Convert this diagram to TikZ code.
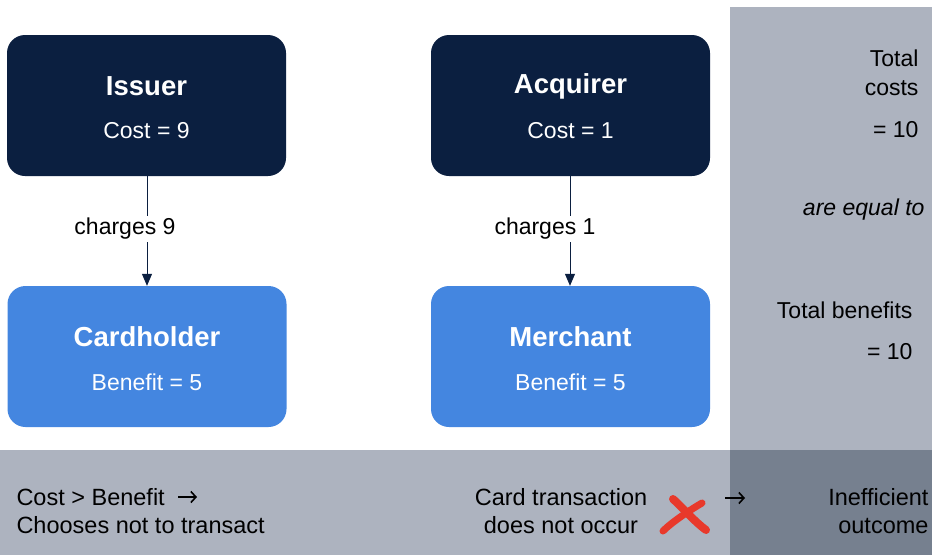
\documentclass[tikz,border=0pt]{standalone}
\usepackage{fontspec}
\setmainfont{Liberation Sans}
\usetikzlibrary{arrows.meta}
\definecolor{navy}{HTML}{0B1F40}
\definecolor{bluebox}{HTML}{4486E0}
\definecolor{panel}{HTML}{ADB3BF}
\definecolor{panelDark}{HTML}{76808F}
\definecolor{xred}{HTML}{E8392B}
\tikzset{
  x=1pt,y=-1pt,
  topbox/.style={fill=navy,rounded corners=18pt,minimum width=279pt,minimum height=141pt,inner sep=0pt,text=white,align=center},
  botbox/.style={topbox,fill=bluebox},
  ttl/.style={font=\fontsize{27.5}{32}\selectfont\bfseries},
  txt/.style={font=\fontsize{23}{28}\selectfont},
  btxt/.style={font=\fontsize{23.5}{28}\selectfont},
  conn/.style={draw=navy,line width=1pt,-{Triangle[length=12pt,width=10pt]}},
  lbl/.style={txt,fill=white,inner sep=2pt,text=black},
  barb/.style={draw=black,line width=1.6pt,-{Straight Barb[length=5pt,width=11pt,line width=1.6pt]}},
}
\begin{document}
\begin{tikzpicture}
\useasboundingbox (0,0) rectangle (932,555);
\fill[white] (0,0) rectangle (932,555);
% panels
\fill[panel] (730,7) rectangle (932,555);
\fill[panel] (0,450) rectangle (932,555);
\fill[panelDark] (730,450) rectangle (932,555);
% boxes
\node[topbox] (issuer) at (146.5,105.5) {};
\node[topbox] (acquirer) at (570.5,105.5) {};
\node[botbox] (cardholder) at (147,356.5) {};
\node[botbox] (merchant) at (570.5,356.5) {};
\node[ttl,text=white] (issuerT) at (146.5,86) {Issuer};
\node[txt,text=white] (issuerC) at (146.5,131) {Cost = 9};
\node[ttl,text=white] (acqT) at (570.5,86) {Acquirer};
\node[txt,text=white] (acqC) at (570.5,131) {Cost = 1};
\node[ttl,text=white] (chT) at (147,337) {Cardholder};
\node[txt,text=white] (chB) at (147,382) {Benefit = 5};
\node[ttl,text=white] (mT) at (570.5,337) {Merchant};
\node[txt,text=white] (mB) at (570.5,382) {Benefit = 5};
% connectors
\draw[conn] (issuer.south -| 147,0) -- (cardholder.north -| 147,0);
\draw[conn] (acquirer.south -| 570,0) -- (merchant.north -| 570,0);
\node[lbl] (c9) at (125,229) {charges 9};
\node[lbl] (c1) at (545,229) {charges 1};
% right panel texts
\node[txt,anchor=east] (t1) at (922,58) {Total};
\node[txt,anchor=east] (t2) at (922,88) {costs};
\node[txt,anchor=east] (t3) at (922,130) {= 10};
\node[txt,anchor=east] (t4) at (928,210) {\itshape are equal to};
\node[txt,anchor=east] (t5) at (916,310) {Total benefits};
\node[txt,anchor=east] (t6) at (916,352) {= 10};
% bottom texts
\node[btxt,anchor=west,align=left] (b1) at (13,511) {Cost > Benefit\hspace{24pt}\\Chooses not to transact};
\node[btxt,align=center] (b2) at (561,511) {Card transaction\\does not occur};
\node[btxt,anchor=east,align=right] (b4) at (932,511) {Inefficient\\outcome};
% arrows
\coordinate (a1s) at (178,497);
\coordinate (a1e) at (197,497);
\coordinate (a2s) at (725,498);
\coordinate (a2e) at (745,498);
\draw[barb] (a1s) -- (a1e);
\draw[barb] (a2s) -- (a2e);
% red cross
\draw[xred,line width=8pt,line cap=round] (673,499) .. controls (683,508) and (695,522) .. (706,530);
\draw[xred,line width=7pt,line cap=round] (702,503) .. controls (690,510) and (672,522) .. (663,531);
\end{tikzpicture}
\end{document}
